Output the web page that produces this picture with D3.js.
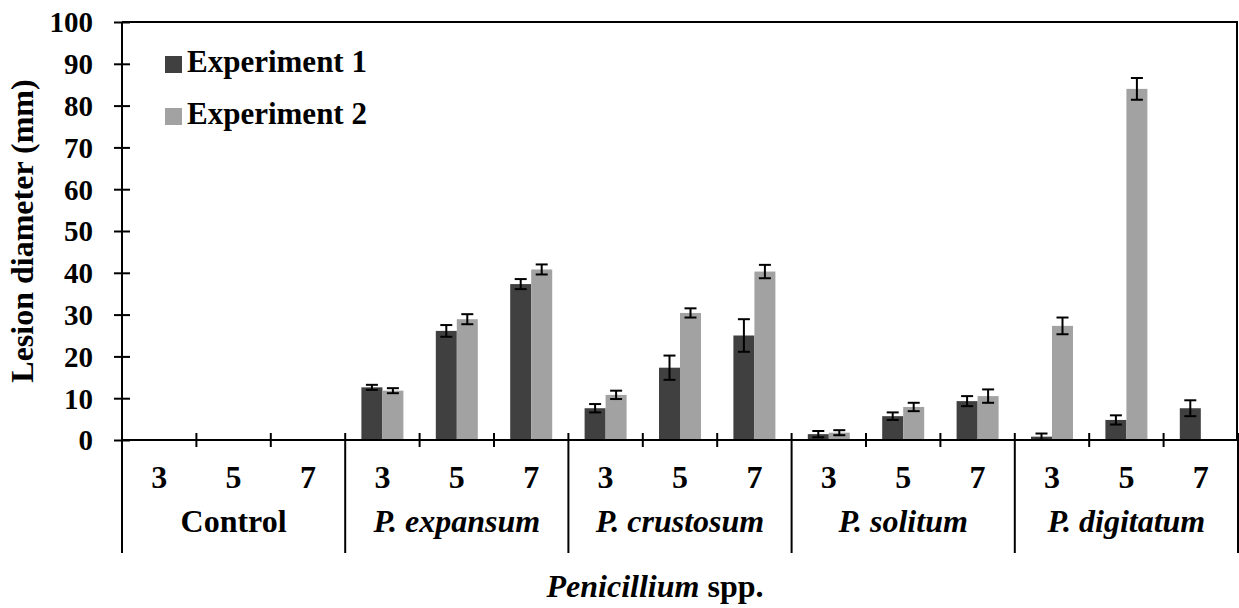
<!DOCTYPE html>
<html>
<head>
<meta charset="utf-8">
<script src="https://cdn.jsdelivr.net/npm/d3@7"></script>
<style>
  body { margin: 0; background: #fff; }
  svg { display: block; font-family: "Liberation Serif", "Times New Roman", serif; font-weight: bold; }
</style>
</head>
<body>
<svg id="chart" width="1239" height="608"></svg>
<script>
// data
var groups = ["Control", "P. expansum", "P. crustosum", "P. solitum", "P. digitatum"]
var days = ["3", "5", "7"]
var exp1 = [0, 0, 0, 12.6, 26.1, 37.3, 7.6, 17.3, 25.0, 1.4, 5.7, 9.3, 0.8, 4.8, 7.6]
var exp1_err = [0, 0, 0, 0.6, 1.4, 1.2, 1.0, 2.9, 3.9, 0.75, 0.9, 1.2, 0.75, 1.1, 1.9]
var exp2 = [0, 0, 0, 11.8, 28.9, 40.8, 10.8, 30.4, 40.3, 1.75, 7.9, 10.5, 27.3, 84.0, 0]
var exp2_err = [0, 0, 0, 0.6, 1.2, 1.2, 1.0, 1.1, 1.6, 0.6, 1.0, 1.6, 2.0, 2.6, 0]
var series_names = ["Experiment 1", "Experiment 2"]
var colors = ["#404040", "#a2a2a2"]
var y_ticks = [0, 10, 20, 30, 40, 50, 60, 70, 80, 90, 100]

var svg = d3.select("#chart")

var mLeft = 122, mRight = 1238, mTop = 22, mBottom = 440

var cats = []
groups.forEach(function(g, gi) {
	days.forEach(function(d, di) { cats.push(gi * 3 + di) })
})

var x = d3.scaleBand()
	.domain(cats)
	.range([mLeft, mRight])

var y = d3.scaleLinear()
	.domain([0, 100])
	.range([mBottom, mTop])

var barW = 21

var series = [
	{name: series_names[0], vals: exp1, errs: exp1_err, color: colors[0], off: -barW},
	{name: series_names[1], vals: exp2, errs: exp2_err, color: colors[1], off: 0}
]

// plot frame (top & right)
svg.append("path")
	.attr("d", "M" + mLeft + "," + mTop + "H" + (mRight - 1) + "V" + mBottom)
	.attr("fill", "none")
	.attr("stroke", "#000")
	.attr("stroke-width", 2)

// bars
series.forEach(function(s) {
	var cx = function(i) { return x(i) + x.bandwidth() / 2 + s.off }
	svg.append("g").selectAll("rect")
		.data(s.vals)
		.enter().append("rect")
		.attr("x", function(d, i) { return cx(i) })
		.attr("y", function(d) { return y(d) })
		.attr("width", barW)
		.attr("height", function(d) { return y(0) - y(d) })
		.attr("fill", s.color)

	var eb = svg.append("g").attr("stroke", "#000").attr("stroke-width", 2)
	s.vals.forEach(function(v, i) {
		if (v === 0 && s.errs[i] === 0) return
		var mx = cx(i) + barW / 2
		var hi = y(v + s.errs[i]), lo = y(Math.max(0, v - s.errs[i]))
		eb.append("line").attr("x1", mx).attr("x2", mx).attr("y1", hi).attr("y2", lo)
		eb.append("line").attr("x1", mx - 6).attr("x2", mx + 6).attr("y1", hi).attr("y2", hi)
		eb.append("line").attr("x1", mx - 6).attr("x2", mx + 6).attr("y1", lo).attr("y2", lo)
	})
})

// y axis
var yAxis = svg.append("g")
	.attr("transform", "translate(" + mLeft + ",0)")
	.call(d3.axisLeft(y).tickValues(y_ticks).tickSize(8).tickPadding(21))
yAxis.select(".domain").attr("stroke-width", 2).attr("d", "M0," + mTop + "V553")
yAxis.selectAll(".tick line").attr("x1", -8).attr("x2", 8).attr("stroke-width", 2)
yAxis.selectAll(".tick text")
	.attr("font-size", 29)
	.attr("font-family", "Liberation Serif")
	.attr("font-weight", "bold")
	.attr("fill", "#000")
	.attr("dy", "0.34em")

// x axis
var xAxis = svg.append("g")
	.attr("transform", "translate(0," + mBottom + ")")
var edges = d3.range(16).map(function(i) { return mLeft + i * x.step() })
xAxis.append("line")
	.attr("x1", mLeft).attr("x2", mRight)
	.attr("stroke", "#000").attr("stroke-width", 2)
xAxis.selectAll(".tk")
	.data(edges)
	.enter().append("line")
	.attr("x1", function(d) { return d }).attr("x2", function(d) { return d })
	.attr("y1", -7)
	.attr("y2", function(d, i) { return i % 3 === 0 ? 113 : 7 })
	.attr("stroke", "#000").attr("stroke-width", 2)

// day labels
xAxis.selectAll(".day")
	.data(cats)
	.enter().append("text")
	.attr("x", function(d) { return x(d) + x.bandwidth() / 2 })
	.attr("y", 48)
	.attr("text-anchor", "middle")
	.attr("font-size", 32)
	.text(function(d) { return days[d % 3] })

// group labels
xAxis.selectAll(".grp")
	.data(groups)
	.enter().append("text")
	.attr("x", function(d, i) { return mLeft + (i * 3 + 1.5) * x.step() })
	.attr("y", 92)
	.attr("text-anchor", "middle")
	.attr("font-size", 32)
	.attr("font-style", function(d) { return d === "Control" ? "normal" : "italic" })
	.text(function(d) { return d })

// axis titles
var xt = svg.append("text")
	.attr("x", 655)
	.attr("y", 597)
	.attr("text-anchor", "middle")
	.attr("font-size", 32)
xt.append("tspan").attr("font-style", "italic").text("Penicillium")
xt.append("tspan").text(" spp.")

svg.append("text")
	.attr("transform", "translate(33,231) rotate(-90)")
	.attr("text-anchor", "middle")
	.attr("font-size", 32)
	.text("Lesion diameter (mm)")

// legend
var lg = svg.append("g")
series.forEach(function(s, i) {
	var ly = 64 + i * 52
	lg.append("rect")
		.attr("x", 165).attr("y", ly - 8)
		.attr("width", 17).attr("height", 17)
		.attr("fill", s.color)
	lg.append("text")
		.attr("x", 187).attr("y", ly + 8)
		.attr("font-size", 31)
		.text(s.name)
})
</script>
</body>
</html>
